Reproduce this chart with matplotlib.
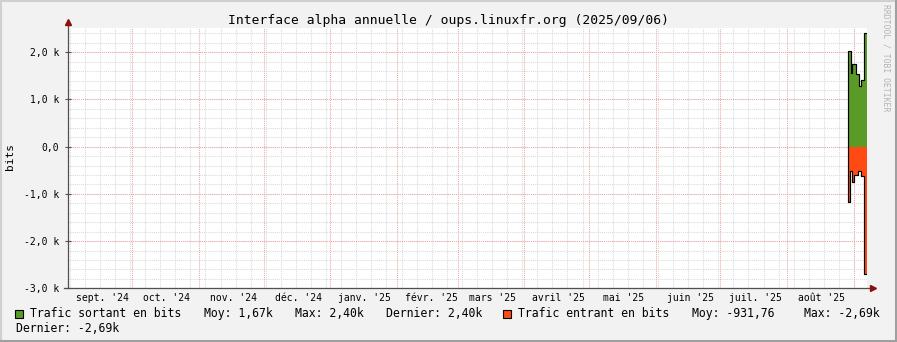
import pandas as pd
import numpy as np
import matplotlib
matplotlib.use("Agg")
import matplotlib.pyplot as plt
from matplotlib.patches import Rectangle
from matplotlib.lines import Line2D

# data (only the last days of the year carry values)
out_edges = ["2025-08-29 08:30", "2025-08-30 11:15", "2025-08-31 05:00", "2025-09-01 22:15",
             "2025-09-03 07:45", "2025-09-04 09:00", "2025-09-05 12:00", "2025-09-06 21:00"]
out_values = [2020, 1570, 1760, 1540, 1280, 1420, 2400]

in_edges = ["2025-08-29 08:30", "2025-08-30 07:00", "2025-08-31 05:00", "2025-09-01 03:20",
            "2025-09-02 20:30", "2025-09-04 09:00", "2025-09-05 12:00", "2025-09-06 21:00"]
in_values = [-1180, -520, -740, -600, -520, -620, -2690]

month_labels = ["sept. '24", "oct. '24", "nov. '24", "déc. '24", "janv. '25", "févr. '25",
                "mars '25", "avril '25", "mai '25", "juin '25", "juil. '25", "août '25"]
y_ticks = [2000, 1000, 0, -1000, -2000, -3000]
y_tick_labels = ["2,0 k", "1,0 k", "0,0", "-1,0 k", "-2,0 k", "-3,0 k"]

title = "Interface alpha annuelle / oups.linuxfr.org (2025/09/06)"
legend_out = ["Trafic sortant en bits", "Moy: 1,67k", "Max: 2,40k", "Dernier: 2,40k"]
legend_in = ["Trafic entrant en bits", "Moy: -931,76", "Max: -2,69k", "Dernier: -2,69k"]

GREEN = "#5A9A26"
RED = "#FF4A14"
BG = "#F2F2F2"
MONO = "DejaVu Sans Mono"

W, H = 897, 342
fx = lambda px: px / W
fy = lambda py: 1 - py / H

fig = plt.figure(figsize=(W / 100, H / 100), dpi=100, facecolor=BG)

# 3d-ish frame around the image
fig.add_artist(Line2D([0, 1], [fy(0.5), fy(0.5)], color="#D0D0D0", lw=1.5))
fig.add_artist(Line2D([fx(0.5), fx(0.5)], [0, 1], color="#D0D0D0", lw=1.5))
fig.add_artist(Line2D([0, 1], [fy(341), fy(341)], color="#A0A0A0", lw=2.2))
fig.add_artist(Line2D([fx(896), fx(896)], [0, 1], color="#A0A0A0", lw=2.2))

left, right, top, bottom = 67.5, 867, 27.7, 288.3
ax = fig.add_axes([fx(left), fy(bottom), (right - left) / W, (bottom - top) / H])
ax.set_facecolor("white")

x0 = pd.Timestamp("2024-09-01")
x1 = pd.Timestamp("2025-09-07")
ax.set_xlim(x0, x1)
ax.set_ylim(-3000, 2520)

# grid: weekly (mondays) + monthly, 200 / 1000 bits
for d in pd.date_range("2024-09-02", x1, freq="7D"):
    ax.axvline(d, color="#DADADA", lw=0.75, ls=(0, (1, 1)), zorder=0)
for v in np.arange(-3000, 2600, 200):
    ax.axhline(v, color="#DADADA", lw=0.75, ls=(0, (1, 1)), zorder=0)
for d in pd.date_range("2024-10-01", x1, freq="MS"):
    ax.axvline(d, color="#F5A5A5", lw=0.75, ls=(0, (1, 1)), zorder=0.5)
for v in y_ticks:
    ax.axhline(v, color="#F5A5A5", lw=0.75, ls=(0, (1, 1)), zorder=0.5)

# areas + outlines
oe = pd.to_datetime(out_edges)
ie = pd.to_datetime(in_edges)
ax.fill_between(oe, out_values + [out_values[-1]], 0, step="post", color=GREEN, lw=0, zorder=2)
ax.fill_between(ie, in_values + [in_values[-1]], 0, step="post", color=RED, lw=0, zorder=2)
ax.plot([oe[0]] + list(oe), [0] + out_values + [out_values[-1]], drawstyle="steps-post",
        color="black", lw=0.85, zorder=3)
ax.plot([ie[0]] + list(ie), [0] + in_values + [in_values[-1]], drawstyle="steps-post",
        color="black", lw=0.85, zorder=3)

# axes with arrows
for s in ["top", "right", "left", "bottom"]:
    ax.spines[s].set_visible(False)
ax.add_line(Line2D([0, 0], [0, 1.018], transform=ax.transAxes, color="#505050", lw=0.9, clip_on=False))
ax.add_line(Line2D([-0.004, 1.006], [0, 0], transform=ax.transAxes, color="#505050", lw=0.9, clip_on=False))
ax.plot([0], [1.02], marker="^", ms=5, color="#8B1010", transform=ax.transAxes, clip_on=False)
ax.plot([1.007], [0], marker=">", ms=5, color="#8B1010", transform=ax.transAxes, clip_on=False)

label_dates = [pd.Timestamp("2024-09-17") + pd.DateOffset(months=i) for i in range(len(month_labels))]
ax.set_xticks(label_dates)
ax.set_xticklabels(month_labels, fontfamily=MONO, fontsize=7)
ax.tick_params(axis="x", length=0, pad=3.5)
ax.set_yticks(y_ticks)
ax.set_yticklabels(y_tick_labels, fontfamily=MONO, fontsize=7)
ax.tick_params(axis="y", length=4, direction="inout", width=0.8, color="#505050", pad=4)

# texts
fig.text(0.5, fy(24), title, ha="center", va="baseline", fontfamily=MONO, fontsize=9.4)
fig.text(fx(10), fy(157), "bits", rotation=90, ha="center", va="center", fontfamily=MONO, fontsize=8)
fig.text(fx(886), fy(4), "RRDTOOL / TOBI OETIKER", rotation=270, ha="center", va="top",
         fontfamily=MONO, fontsize=5.9, color="#B4B4B4")

# legend
fs = 8.3
fig.add_artist(Rectangle((fx(15), fy(318)), 7.5 / W, 8.5 / H, facecolor=GREEN, edgecolor="black", lw=0.8))
for txt, px in zip(legend_out, [30, 204, 295, 386]):
    fig.text(fx(px), fy(317.3), txt, ha="left", va="baseline", fontfamily=MONO, fontsize=fs)
fig.add_artist(Rectangle((fx(503), fy(318)), 7.5 / W, 8.5 / H, facecolor=RED, edgecolor="black", lw=0.8))
for txt, px, py in zip(legend_in, [518, 692, 804, 16], [317.3, 317.3, 317.3, 332]):
    fig.text(fx(px), fy(py), txt, ha="left", va="baseline", fontfamily=MONO, fontsize=fs)

fig.savefig("out.png", dpi=100, facecolor=BG)
